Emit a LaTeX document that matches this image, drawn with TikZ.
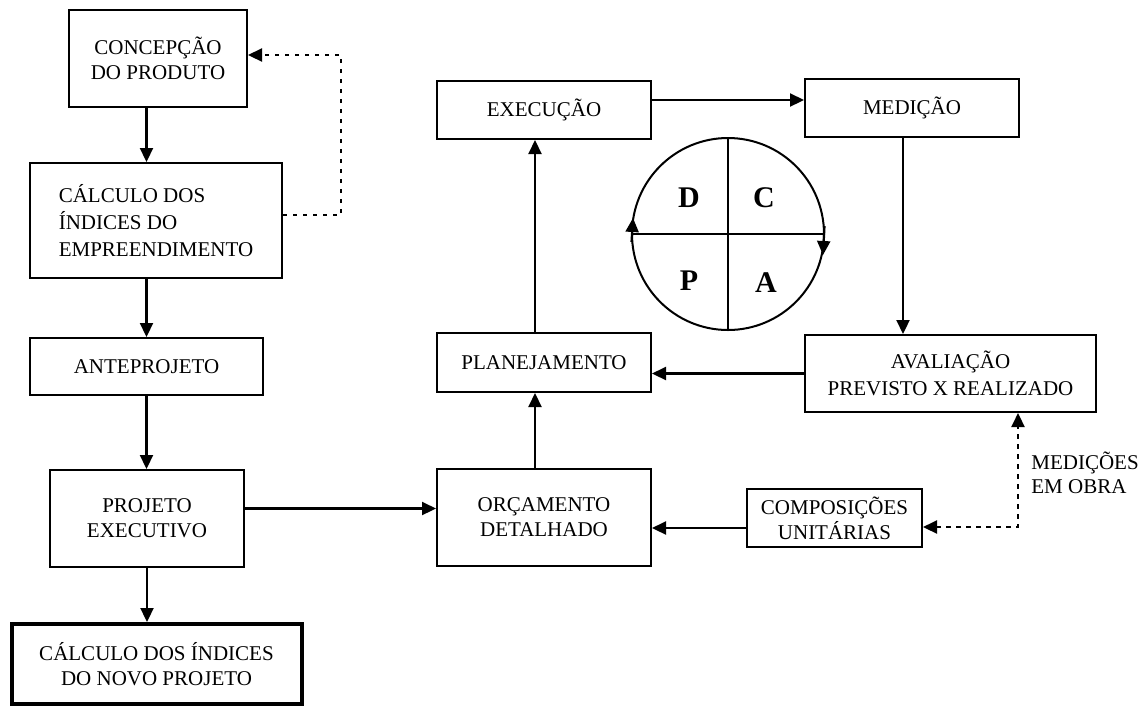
\documentclass[tikz,border=0pt]{standalone}
\usepackage{fontspec}
\setmainfont{Liberation Serif}
\usetikzlibrary{arrows.meta}

\begin{document}
\begin{tikzpicture}[x=0.5pt,y=-0.5pt,
  box/.style={draw,line width=1pt,inner sep=2pt,align=center,font=\fontsize{10.5}{12.5}\selectfont},
  arr/.style={line width=1.1pt,-{Triangle[length=7pt,width=6.5pt]}},
  dots/.style={line width=1.1pt,dash pattern=on 2.2pt off 2.8pt},
  letter/.style={font=\fontsize{15}{15}\selectfont\bfseries}]
  \useasboundingbox (0,0) rectangle (1145,708);

  % left column
  \node[box,minimum width=89pt,minimum height=48.5pt] (concepcao) at (158,58.5) {CONCEPÇÃO\\DO PRODUTO};
  \node[box,minimum width=126pt,minimum height=57.5pt,align=left,font=\fontsize{10.5}{13.3}\selectfont] (calculo) at (156,220.5) {CÁLCULO DOS\\ÍNDICES DO\\EMPREENDIMENTO};
  \node[box,minimum width=116.5pt,minimum height=28.5pt] (anteprojeto) at (146.5,366.5) {ANTEPROJETO};
  \node[box,minimum width=97pt,minimum height=48.5pt] (projeto) at (147,518.5) {PROJETO\\EXECUTIVO};
  \node[box,line width=2pt,minimum width=145pt,minimum height=40pt] (novo) at (156.5,664) {CÁLCULO DOS ÍNDICES\\DO NOVO PROJETO};

  % PDCA loop
  \node[box,minimum width=107pt,minimum height=29pt] (execucao) at (544,110) {EXECUÇÃO};
  \node[box,minimum width=107pt,minimum height=29pt] (medicao) at (912,108) {MEDIÇÃO};
  \node[box,minimum width=107pt,minimum height=29.5pt] (planejamento) at (544,362.5) {PLANEJAMENTO};
  \node[box,minimum width=145.5pt,minimum height=38.5pt,font=\fontsize{10.5}{13.3}\selectfont] (avaliacao) at (950.5,373.5) {AVALIAÇÃO\\PREVISTO X REALIZADO};
  \node[box,minimum width=107pt,minimum height=48.5pt] (orcamento) at (544,517.5) {ORÇAMENTO\\DETALHADO};
  \node[box,minimum width=87.5pt,minimum height=29pt] (composicoes) at (834.5,518) {COMPOSIÇÕES\\UNITÁRIAS};
  \node[font=\fontsize{10.5}{12}\selectfont,align=left,anchor=west,inner sep=0pt] (obra) at (1031,473) {MEDIÇÕES\\EM OBRA};

  % circle
  \node[circle,draw,line width=1pt,minimum size=96pt,inner sep=0pt] (pdca) at (728,234) {};
  \draw[line width=1pt] (pdca.north) -- (pdca.south);
  \draw[line width=1pt] (pdca.west) -- (pdca.east);
  \draw[arr] (631.5,242) -- (633,218);
  \draw[arr] (824.5,226) -- (823,255);
  \node[letter] (d) at (689,198) {D};
  \node[letter] (c) at (764,198) {C};
  \node[letter] (p) at (689,281) {P};
  \node[letter] (a) at (766,283) {A};

  % connectors
  \draw[arr] (concepcao.south -| anteprojeto) -- (calculo.north -| anteprojeto);
  \draw[arr] (calculo.south -| anteprojeto) -- (anteprojeto.north);
  \draw[arr] (anteprojeto.south) -- (projeto.north -| anteprojeto);
  \draw[arr] (projeto.south) -- (novo.north -| projeto);
  \draw[arr] ([yshift=5pt]projeto.east) -- ([yshift=5pt]projeto.east -| orcamento.west);
  \draw[arr] ([xshift=-4.5pt]orcamento.north) -- ([xshift=-4.5pt]planejamento.south);
  \draw[arr] ([xshift=-4.5pt]planejamento.north) -- ([xshift=-4.5pt]execucao.south);
  \draw[arr] ([yshift=5pt]execucao.east) -- ([yshift=5pt]execucao.east -| medicao.west);
  \draw[arr] ([xshift=-4.5pt]medicao.south) -- ([xshift=-4.5pt]medicao.south |- avaliacao.north);
  \draw[arr] (avaliacao.west) -- (avaliacao.west -| planejamento.east);
  \draw[arr] ([yshift=-5pt]composicoes.west) -- ([yshift=-5pt]composicoes.west -| orcamento.east);

  % dotted feedback
  \draw[dots,-{Triangle[length=7pt,width=6.5pt]}] ([yshift=2.75pt]calculo.east) -- ++(58,0) |- ([yshift=1.75pt]concepcao.east);
  \draw[dots,{Triangle[length=7pt,width=6.5pt]}-{Triangle[length=7pt,width=6.5pt]}] ([yshift=-4.5pt]composicoes.east) -| ([xshift=33.75pt]avaliacao.south);
\end{tikzpicture}
\end{document}
